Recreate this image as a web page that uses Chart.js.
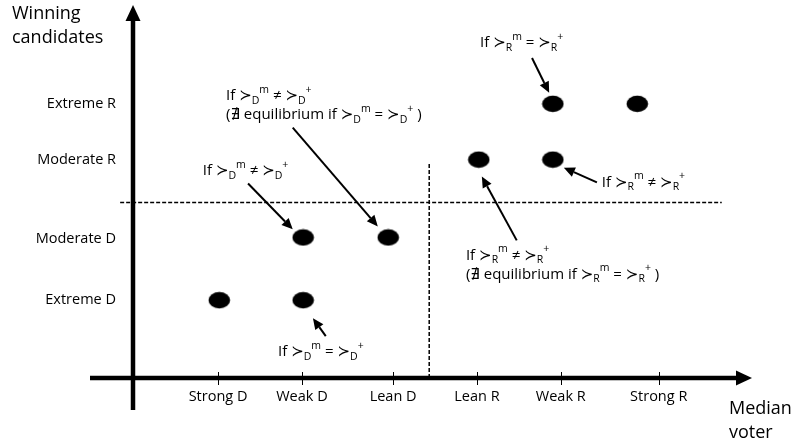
<!DOCTYPE html>
<html>
<head>
<meta charset="utf-8">
<script src="https://cdn.jsdelivr.net/npm/chart.js@4.4.1/dist/chart.umd.min.js"></script>
<style>
  html, body { margin: 0; padding: 0; background: #fff; }
  #wrap { width: 798px; height: 444px; }
</style>
</head>
<body>
<div id="wrap"><canvas id="chart" width="798" height="444"></canvas></div>
<script>
// median voter categories (x) and where their ticks sit
const voterLabels = ['Strong D', 'Weak D', 'Lean D', 'Lean R', 'Weak R', 'Strong R'];
const voterTicks = [1.39, 2.76, 4.25, 5.62, 6.99, 8.59];

// winning candidate categories (y)
const candidateLabels = ['Extreme D', 'Moderate D', 'Moderate R', 'Extreme R'];
const candidateTicks = [2.12, 3.8, 5.95, 7.47];

// equilibrium outcomes
const outcomeX = [1.41, 2.78, 2.78, 4.17, 5.65, 6.86, 6.86, 8.24];
const outcomeY = [2.12, 2.12, 3.83, 3.83, 5.95, 5.95, 7.47, 7.47];

// dashed party divides
const divideH = [{ x: -0.21, y: 4.78 }, { x: 9.62, y: 4.78 }];
const divideV = [{ x: 4.84, y: 0 }, { x: 4.84, y: 5.87 }];

// annotations: text anchor, arrow tail -> tip (data units)
const notes = [
  { at: [5.67, 9.13], lines: ['If ≻_{R}^{m} = ≻_{R}^{+}'], from: [6.52, 8.72], to: [6.80, 7.77] },
  { at: [7.66, 5.33], lines: ['If ≻_{R}^{m} ≠ ≻_{R}^{+}'], from: [7.58, 5.33], to: [7.04, 5.73] },
  { at: [1.52, 7.69], lines: ['If ≻_{D}^{m} ≠ ≻_{D}^{+}', '(∄ equilibrium if ≻_{D}^{m} = ≻_{D}^{+} )'], from: [2.61, 6.82], to: [4.00, 4.13] },
  { at: [1.14, 5.65], lines: ['If ≻_{D}^{m} ≠ ≻_{D}^{+}'], from: [1.88, 5.30], to: [2.61, 4.05] },
  { at: [5.44, 3.34], lines: ['If ≻_{R}^{m} ≠ ≻_{R}^{+}', '(∄ equilibrium if ≻_{R}^{m} = ≻_{R}^{+} )'], from: [6.27, 3.75], to: [5.70, 5.49] },
  { at: [2.37, 0.71], lines: ['If ≻_{D}^{m} = ≻_{D}^{+}'], from: [3.15, 1.14], to: [2.94, 1.63] }
];

const FONT = '"Open Sans", "DejaVu Sans", sans-serif';

// filled ellipse used as the point marker
const dot = document.createElement('canvas');
dot.width = 23; dot.height = 18;
(function() {
    const c = dot.getContext('2d');
    c.fillStyle = '#000';
    c.beginPath();
    c.ellipse(11.5, 9, 10.8, 8.2, 0, 0, Math.PI * 2);
    c.fill();
})();

function drawRich(ctx, text, x, y) {
    const parts = text.match(/_\{[^}]*\}|\^\{[^}]*\}|[^_^]+/g);
    ctx.textAlign = 'left';
    ctx.textBaseline = 'middle';
    parts.forEach(p => {
        let s = p, dy = 0, size = 15;
        if (p[0] === '_') { s = p.slice(2, -1); dy = 5; size = 10.5; }
        else if (p[0] === '^') { s = p.slice(2, -1); dy = -6; size = 10.5; }
        ctx.font = size + 'px ' + FONT;
        ctx.fillText(s, x, y + dy);
        x += ctx.measureText(s).width;
    });
}

function arrow(ctx, x1, y1, x2, y2) {
    const a = Math.atan2(y2 - y1, x2 - x1);
    const hl = 11, hw = 5;
    const bx = x2 - hl * Math.cos(a), by = y2 - hl * Math.sin(a);
    ctx.beginPath();
    ctx.moveTo(x1, y1);
    ctx.lineTo(bx, by);
    ctx.stroke();
    ctx.beginPath();
    ctx.moveTo(x2, y2);
    ctx.lineTo(bx + hw * Math.sin(a), by - hw * Math.cos(a));
    ctx.lineTo(bx - hw * Math.sin(a), by + hw * Math.cos(a));
    ctx.closePath();
    ctx.fill();
}

const axesPlugin = {
    id: 'axes',
    beforeDatasetsDraw(chart) {
        const ctx = chart.ctx, a = chart.chartArea;
        const xs = chart.scales.x;
        ctx.save();
        ctx.fillStyle = '#000';
        ctx.strokeStyle = '#000';
        // x axis
        ctx.lineWidth = 4.5;
        ctx.beginPath();
        ctx.moveTo(a.left - 43, a.bottom);
        ctx.lineTo(a.right - 8, a.bottom);
        ctx.stroke();
        ctx.beginPath();
        ctx.moveTo(a.right + 7, a.bottom);
        ctx.lineTo(a.right - 9, a.bottom - 7.5);
        ctx.lineTo(a.right - 9, a.bottom + 7.5);
        ctx.closePath();
        ctx.fill();
        // y axis
        ctx.beginPath();
        ctx.moveTo(a.left, a.bottom + 32);
        ctx.lineTo(a.left, a.top + 8);
        ctx.stroke();
        ctx.beginPath();
        ctx.moveTo(a.left, a.top - 6);
        ctx.lineTo(a.left - 7.5, a.top + 10);
        ctx.lineTo(a.left + 7.5, a.top + 10);
        ctx.closePath();
        ctx.fill();
        // tick marks
        ctx.lineWidth = 1;
        voterTicks.forEach(v => {
            const px = Math.round(xs.getPixelForValue(v)) + 0.5;
            ctx.beginPath();
            ctx.moveTo(px, a.bottom - 6);
            ctx.lineTo(px, a.bottom + 7);
            ctx.stroke();
        });
        ctx.restore();
    },
    afterDatasetsDraw(chart) {
        const ctx = chart.ctx;
        const xs = chart.scales.x, ys = chart.scales.y;
        ctx.save();
        ctx.fillStyle = '#000';
        ctx.strokeStyle = '#000';
        ctx.lineWidth = 2;
        notes.forEach(n => {
            const tx = xs.getPixelForValue(n.at[0]), ty = ys.getPixelForValue(n.at[1]);
            n.lines.forEach((l, i) => drawRich(ctx, l, tx, ty + i * 19));
            arrow(ctx, xs.getPixelForValue(n.from[0]), ys.getPixelForValue(n.from[1]),
                xs.getPixelForValue(n.to[0]), ys.getPixelForValue(n.to[1]));
        });
        // axis titles
        ctx.font = '18px ' + FONT;
        ctx.textAlign = 'left';
        ctx.textBaseline = 'middle';
        ctx.fillText('Winning', 12, 14);
        ctx.fillText('candidates', 12, 38);
        ctx.fillText('Median', 729, 409);
        ctx.fillText('voter', 729, 433);
        ctx.restore();
    }
};

const points = outcomeX.map((x, i) => ({ x: x, y: outcomeY[i] }));

new Chart(document.getElementById('chart'), {
    type: 'scatter',
    data: {
        datasets: [
            {
                data: points,
                pointStyle: dot,
                pointRadius: 10,
                pointHoverRadius: 10
            },
            {
                data: divideH,
                showLine: true,
                borderColor: '#000',
                borderWidth: 1.5,
                borderDash: [4, 2],
                pointRadius: 0,
                clip: false
            },
            {
                data: divideV,
                showLine: true,
                borderColor: '#000',
                borderWidth: 1.5,
                borderDash: [4, 2],
                pointRadius: 0,
                clip: false
            }
        ]
    },
    options: {
        responsive: false,
        animation: false,
        devicePixelRatio: 1,
        layout: { padding: { left: 0, right: 53, top: 10, bottom: 0 } },
        plugins: { legend: { display: false }, tooltip: { enabled: false } },
        scales: {
            x: {
                type: 'linear',
                min: 0,
                max: 10,
                afterBuildTicks: s => { s.ticks = voterTicks.map(v => ({ value: v })); },
                afterFit: s => { s.height = 66; s.paddingLeft = 0; s.paddingRight = 0; },
                grid: { display: false, drawTicks: false },
                border: { display: false },
                ticks: {
                    autoSkip: false,
                    maxRotation: 0,
                    padding: 10,
                    color: '#000',
                    font: { family: FONT, size: 14.5 },
                    callback: (v, i) => voterLabels[i]
                }
            },
            y: {
                type: 'linear',
                min: 0,
                max: 10,
                afterBuildTicks: s => { s.ticks = candidateTicks.map(v => ({ value: v })); },
                afterFit: s => { s.width = 133; s.paddingTop = 0; s.paddingBottom = 0; },
                grid: { display: false, drawTicks: false },
                border: { display: false },
                ticks: {
                    autoSkip: false,
                    padding: 17,
                    color: '#000',
                    font: { family: FONT, size: 14.5 },
                    callback: (v, i) => candidateLabels[i]
                }
            }
        }
    },
    plugins: [axesPlugin]
});
</script>
</body>
</html>
